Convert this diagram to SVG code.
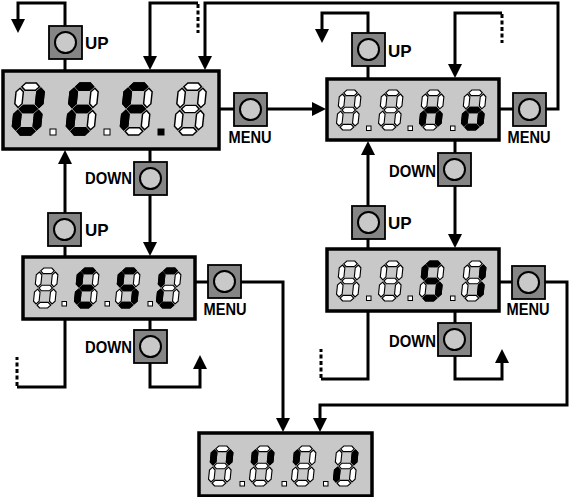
<svg xmlns="http://www.w3.org/2000/svg" xmlns:xlink="http://www.w3.org/1999/xlink" width="570" height="497" viewBox="0 0 570 497">
<style>
.ln{fill:none;stroke:#000;stroke-width:3}
.arr{marker-end:url(#ah)}
.dash{fill:none;stroke:#000;stroke-width:3;stroke-dasharray:4 2.5}
.disp{fill:#c8c8c8;stroke:#000;stroke-width:3.5}
.btn{fill:#858585;stroke:#000;stroke-width:1.8}
.knob{fill:#c9c9c9;stroke:#000;stroke-width:2}
.lbl{font-family:"Liberation Sans Narrow","Liberation Sans",Arial,sans-serif;font-weight:bold;font-size:17px;fill:#000}
.on{fill:#000;stroke:#000;stroke-width:1.4}
.dot{fill:#fff;stroke:#000;stroke-width:1}
.dotOn{fill:#000;stroke:#000;stroke-width:1}
</style>
<defs>
<marker id="ah" markerUnits="userSpaceOnUse" markerWidth="14" markerHeight="14" viewBox="0 0 14 14" refX="10" refY="7" orient="auto"><path d="M0,0 L14,7 L0,14 Z" fill="#000"/></marker>
<path id="sa" d="M5,3.5 L8.5,0 L18.5,0 L22,3.5 L18.5,7 L8.5,7 Z"/>
<path id="sg" d="M5,25 L8.5,21.5 L18.5,21.5 L22,25 L18.5,28.5 L8.5,28.5 Z"/>
<path id="sd" d="M5,46.5 L8.5,43 L18.5,43 L22,46.5 L18.5,50 L8.5,50 Z"/>
<path id="sf" d="M3.5,5 L7,8.5 L7,20 L3.5,23.5 L0,20 L0,8.5 Z"/>
<path id="sb" d="M23.5,5 L27,8.5 L27,20 L23.5,23.5 L20,20 L20,8.5 Z"/>
<path id="se" d="M3.5,26.5 L7,30 L7,41.5 L3.5,45 L0,41.5 L0,30 Z"/>
<path id="sc" d="M23.5,26.5 L27,30 L27,41.5 L23.5,45 L20,41.5 L20,30 Z"/>
<g id="d8" fill="#fff" stroke="#000" stroke-width="1.4">
<use xlink:href="#sa"/><use xlink:href="#sb"/><use xlink:href="#sc"/><use xlink:href="#sd"/><use xlink:href="#se"/><use xlink:href="#sf"/><use xlink:href="#sg"/>
</g>
<g id="btn">
<rect class="btn" x="0" y="0" width="33" height="33"/>
<circle class="knob" cx="16.5" cy="16.5" r="10.5"/>
</g>
</defs>
<rect width="570" height="497" fill="#fff"/>

<g id="connectors">
<path class="ln arr" d="M65,71 V3 H18 V29"/>
<path class="ln arr" d="M198,3 H150 V66"/>
<path class="dash" d="M198,4 V33"/>
<path class="ln arr" d="M499,109 H558 V3 H205 V66"/>
<path class="ln arr" d="M219,109 H322"/>
<path class="ln arr" d="M368,79 V13 H322 V39"/>
<path class="ln arr" d="M502,13 H455 V74"/>
<path class="dash" d="M502,14 V43"/>
<path class="ln arr" d="M150,149 V252"/>
<path class="ln arr" d="M65,257 V154"/>
<path class="ln arr" d="M455,140 V244"/>
<path class="ln arr" d="M368,249 V145"/>
<path class="ln arr" d="M195,282 H283 V428"/>
<path class="ln arr" d="M150,319 V387 H200 V359"/>
<path class="ln" d="M65,319 V387 H17"/>
<path class="dash" d="M17,386 V357"/>
<path class="ln arr" d="M499,282 H567 V405 H320 V428"/>
<path class="ln arr" d="M455,311 V379 H502 V353"/>
<path class="ln" d="M368,311 V379 H321"/>
<path class="dash" d="M321,378 V349"/>
</g>

<g id="display-def">
<rect class="disp" x="3" y="71" width="216" height="78"/>
<g transform="translate(17,83) scale(1.04) skewX(-6)"><use xlink:href="#d8"/><use xlink:href="#sb" class="on"/><use xlink:href="#sc" class="on"/><use xlink:href="#sd" class="on"/><use xlink:href="#se" class="on"/><use xlink:href="#sg" class="on"/></g>
<g transform="translate(71,83) scale(1.04) skewX(-6)"><use xlink:href="#d8"/><use xlink:href="#sa" class="on"/><use xlink:href="#sd" class="on"/><use xlink:href="#se" class="on"/><use xlink:href="#sf" class="on"/><use xlink:href="#sg" class="on"/></g>
<g transform="translate(125,83) scale(1.04) skewX(-6)"><use xlink:href="#d8"/><use xlink:href="#sa" class="on"/><use xlink:href="#se" class="on"/><use xlink:href="#sf" class="on"/><use xlink:href="#sg" class="on"/></g>
<g transform="translate(179,83) scale(1.04) skewX(-6)"><use xlink:href="#d8"/></g>
<rect class="dot" x="50" y="129" width="6" height="6"/>
<rect class="dot" x="104" y="129" width="6" height="6"/>
<rect class="dotOn" x="158" y="129" width="6" height="6"/>
</g>

<g id="display-no">
<rect class="disp" x="327" y="79" width="172" height="61"/>
<g transform="translate(340,90) scale(0.8) skewX(-6)"><use xlink:href="#d8"/></g>
<g transform="translate(382,90) scale(0.8) skewX(-6)"><use xlink:href="#d8"/></g>
<g transform="translate(423,90) scale(0.8) skewX(-6)"><use xlink:href="#d8"/><use xlink:href="#sc" class="on"/><use xlink:href="#se" class="on"/><use xlink:href="#sg" class="on"/></g>
<g transform="translate(465,90) scale(0.8) skewX(-6)"><use xlink:href="#d8"/><use xlink:href="#sc" class="on"/><use xlink:href="#sd" class="on"/><use xlink:href="#se" class="on"/><use xlink:href="#sg" class="on"/></g>
<rect class="dot" x="366.5" y="126" width="4.5" height="4.5"/>
<rect class="dot" x="408" y="126" width="4.5" height="4.5"/>
<rect class="dot" x="450.5" y="126" width="4.5" height="4.5"/>
</g>

<g id="display-esc">
<rect class="disp" x="23" y="257" width="172" height="62"/>
<g transform="translate(37,268) scale(0.8) skewX(-6)"><use xlink:href="#d8"/></g>
<g transform="translate(78,268) scale(0.8) skewX(-6)"><use xlink:href="#d8"/><use xlink:href="#sa" class="on"/><use xlink:href="#sd" class="on"/><use xlink:href="#se" class="on"/><use xlink:href="#sf" class="on"/><use xlink:href="#sg" class="on"/></g>
<g transform="translate(119,268) scale(0.8) skewX(-6)"><use xlink:href="#d8"/><use xlink:href="#sa" class="on"/><use xlink:href="#sf" class="on"/><use xlink:href="#sg" class="on"/><use xlink:href="#sc" class="on"/><use xlink:href="#sd" class="on"/></g>
<g transform="translate(160,268) scale(0.8) skewX(-6)"><use xlink:href="#d8"/><use xlink:href="#sa" class="on"/><use xlink:href="#sf" class="on"/><use xlink:href="#se" class="on"/><use xlink:href="#sd" class="on"/></g>
<rect class="dot" x="62" y="301.5" width="4.5" height="4.5"/>
<rect class="dot" x="105" y="301.5" width="4.5" height="4.5"/>
<rect class="dot" x="148" y="301.5" width="4.5" height="4.5"/>
</g>

<g id="display-si">
<rect class="disp" x="327" y="249" width="172" height="62"/>
<g transform="translate(340,261) scale(0.8) skewX(-6)"><use xlink:href="#d8"/></g>
<g transform="translate(382,261) scale(0.8) skewX(-6)"><use xlink:href="#d8"/></g>
<g transform="translate(423,261) scale(0.8) skewX(-6)"><use xlink:href="#d8"/><use xlink:href="#sa" class="on"/><use xlink:href="#sf" class="on"/><use xlink:href="#sg" class="on"/><use xlink:href="#sc" class="on"/><use xlink:href="#sd" class="on"/></g>
<g transform="translate(465,261) scale(0.8) skewX(-6)"><use xlink:href="#d8"/><use xlink:href="#sb" class="on"/><use xlink:href="#sc" class="on"/></g>
<rect class="dot" x="366.5" y="296" width="4.5" height="4.5"/>
<rect class="dot" x="408" y="296" width="4.5" height="4.5"/>
<rect class="dot" x="450.5" y="296" width="4.5" height="4.5"/>
</g>

<g id="display-bottom">
<rect class="disp" x="199" y="433" width="173" height="63"/>
<g transform="translate(212,446) scale(0.8) skewX(-6)"><use xlink:href="#d8"/><use xlink:href="#sf" class="on"/><use xlink:href="#sb" class="on"/></g>
<g transform="translate(253,446) scale(0.8) skewX(-6)"><use xlink:href="#d8"/><use xlink:href="#sf" class="on"/><use xlink:href="#sb" class="on"/></g>
<g transform="translate(295,446) scale(0.8) skewX(-6)"><use xlink:href="#d8"/><use xlink:href="#sf" class="on"/></g>
<g transform="translate(337,446) scale(0.8) skewX(-6)"><use xlink:href="#d8"/><use xlink:href="#sb" class="on"/><use xlink:href="#se" class="on"/></g>
<rect class="dot" x="240" y="481.5" width="4.5" height="4.5"/>
<rect class="dot" x="282" y="481.5" width="4.5" height="4.5"/>
<rect class="dot" x="323.5" y="481.5" width="4.5" height="4.5"/>
</g>

<g id="btn-up-tl"><use xlink:href="#btn" x="49" y="26"/><text class="lbl" x="85" y="49">UP</text></g>
<g id="btn-menu-tl"><use xlink:href="#btn" x="234" y="93"/><text class="lbl" x="250" y="143" text-anchor="middle" textLength="43" lengthAdjust="spacingAndGlyphs">MENU</text></g>
<g id="btn-down-tl"><use xlink:href="#btn" x="134" y="162"/><text class="lbl" x="85" y="184" textLength="47" lengthAdjust="spacingAndGlyphs">DOWN</text></g>
<g id="btn-up-ml"><use xlink:href="#btn" x="48" y="213"/><text class="lbl" x="85" y="236">UP</text></g>
<g id="btn-menu-ml"><use xlink:href="#btn" x="208" y="265"/><text class="lbl" x="225" y="315" text-anchor="middle" textLength="43" lengthAdjust="spacingAndGlyphs">MENU</text></g>
<g id="btn-down-ml"><use xlink:href="#btn" x="134" y="330"/><text class="lbl" x="85" y="353" textLength="47" lengthAdjust="spacingAndGlyphs">DOWN</text></g>
<g id="btn-up-tr"><use xlink:href="#btn" x="352" y="33"/><text class="lbl" x="388" y="57">UP</text></g>
<g id="btn-menu-tr"><use xlink:href="#btn" x="513" y="93"/><text class="lbl" x="529" y="143" text-anchor="middle" textLength="43" lengthAdjust="spacingAndGlyphs">MENU</text></g>
<g id="btn-down-tr"><use xlink:href="#btn" x="438" y="153"/><text class="lbl" x="389" y="177" textLength="47" lengthAdjust="spacingAndGlyphs">DOWN</text></g>
<g id="btn-up-mr"><use xlink:href="#btn" x="352" y="206"/><text class="lbl" x="388" y="229">UP</text></g>
<g id="btn-menu-mr"><use xlink:href="#btn" x="512" y="266"/><text class="lbl" x="528" y="315" text-anchor="middle" textLength="43" lengthAdjust="spacingAndGlyphs">MENU</text></g>
<g id="btn-down-mr"><use xlink:href="#btn" x="438" y="323"/><text class="lbl" x="389" y="347" textLength="47" lengthAdjust="spacingAndGlyphs">DOWN</text></g>
</svg>
